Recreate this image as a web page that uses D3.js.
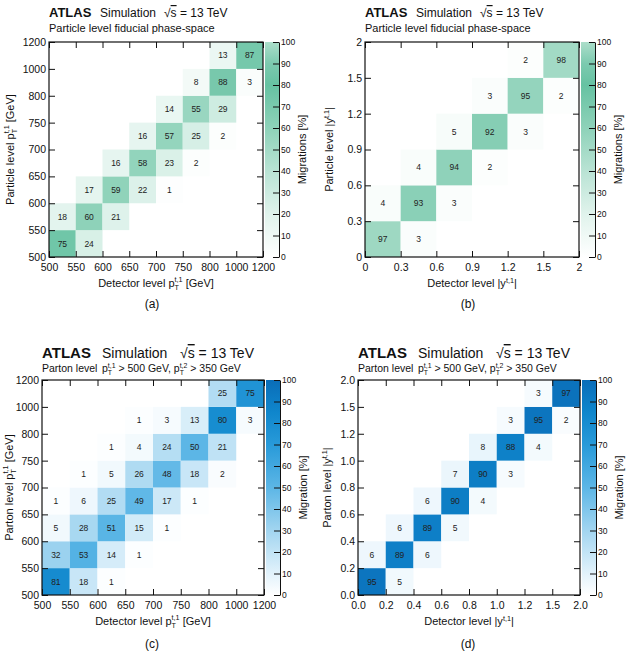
<!DOCTYPE html>
<html>
<head>
<meta charset="utf-8">
<script src="https://cdn.jsdelivr.net/npm/d3@7"></script>
<style>
  body { margin: 0; background: #fff; }
  text { font-family: "Liberation Sans", Arial, sans-serif; fill: #111; }
</style>
</head>
<body>
<script>
const width = 631;
const height = 654;

// bin edges (tick labels)
const ptEdges = ["500", "550", "600", "650", "700", "750", "800", "1000", "1200"];
const rapEdgesB = ["0", "0.3", "0.6", "0.9", "1.2", "1.5", "2"];
const rapEdgesD = ["0.0", "0.2", "0.4", "0.6", "0.8", "1.0", "1.2", "1.5", "2.0"];

// migration matrices in %, rows = truth bin (bottom to top), columns = detector bin
const migPtParticle = [
  [75, 24, null, null, null, null, null, null],
  [18, 60, 21, null, null, null, null, null],
  [null, 17, 59, 22, 1, null, null, null],
  [null, null, 16, 58, 23, 2, null, null],
  [null, null, null, 16, 57, 25, 2, null],
  [null, null, null, null, 14, 55, 29, null],
  [null, null, null, null, null, 8, 88, 3],
  [null, null, null, null, null, null, 13, 87]
];
const migRapParticle = [
  [97, 3, null, null, null, null],
  [4, 93, 3, null, null, null],
  [null, 4, 94, 2, null, null],
  [null, null, 5, 92, 3, null],
  [null, null, null, 3, 95, 2],
  [null, null, null, null, 2, 98]
];
const migPtParton = [
  [81, 18, 1, null, null, null, null, null],
  [32, 53, 14, 1, null, null, null, null],
  [5, 28, 51, 15, 1, null, null, null],
  [1, 6, 25, 49, 17, 1, null, null],
  [null, 1, 5, 26, 48, 18, 2, null],
  [null, null, 1, 4, 24, 50, 21, null],
  [null, null, null, 1, 3, 13, 80, 3],
  [null, null, null, null, null, null, 25, 75]
];
const migRapParton = [
  [95, 5, null, null, null, null, null, null],
  [6, 89, 6, null, null, null, null, null],
  [null, 6, 89, 5, null, null, null, null],
  [null, null, 6, 90, 4, null, null, null],
  [null, null, null, 7, 90, 3, null, null],
  [null, null, null, null, 8, 88, 4, null],
  [null, null, null, null, null, 3, 95, 2],
  [null, null, null, null, null, null, 3, 97]
];

// colour palettes
const greenStops = [0, 20, 40, 60, 80, 90, 100];
const greenColors = ["#ffffff", "#e0f3ec", "#b9e3d4", "#8ed2b9", "#66c2a2", "#7ccaaf", "#acdeca"];
const blueStops = [0, 10, 30, 50, 70, 85, 100];
const blueColors = ["#ffffff", "#e2f2fb", "#a2d5f0", "#5cb6e6", "#289ad9", "#0f86cc", "#0a6db8"];

const svg = d3.select("body")
  .append("svg")
  .attr("width", width)
  .attr("height", height);

const defs = svg.append("defs");

// p_T^{sup} / |y^{sup}| with stacked sub/superscript
function addPt(sel, sup, fs) {
  sel.append("tspan").text("p");
  sel.append("tspan").attr("font-size", fs * 0.66).attr("dy", fs * 0.3).text("T");
  sel.append("tspan").attr("font-size", fs * 0.66).attr("dx", -fs * 0.66 * 0.61).attr("dy", -fs * 0.72).text(sup);
  return sel.append("tspan").attr("dy", fs * 0.42);
}
function addRap(sel, fs) {
  sel.append("tspan").text("|y");
  sel.append("tspan").attr("font-size", fs * 0.66).attr("dy", -fs * 0.4).text("t,1");
  sel.append("tspan").attr("dy", fs * 0.4).text("|");
}

function drawTitle(p) {
  const t = p.title;
  const g = svg.append("g").attr("transform", `translate(${p.left},${p.top})`);
  g.append("text").attr("x", 0).attr("y", -t.dy)
    .attr("font-size", t.fs + 1).attr("font-weight", "bold").text("ATLAS");
  g.append("text").attr("x", t.sim).attr("y", -t.dy)
    .attr("font-size", t.fs).text("Simulation");
  const rs = g.append("text").attr("x", t.rs).attr("y", -t.dy).attr("font-size", t.fs);
  rs.append("tspan").text("\u221A");
  rs.append("tspan").style("text-decoration", "overline").text("s");
  rs.append("tspan").text(" = 13 TeV");

  const sub = g.append("text").attr("x", 0).attr("y", -t.subDy).attr("font-size", t.subFs);
  if (p.parton) {
    sub.text("Parton level");
    const s2 = g.append("text").attr("x", t.sim).attr("y", -t.subDy).attr("font-size", t.subFs);
    addPt(s2, "t,1", t.subFs).text(" > 500 GeV, ");
    addPt(s2, "t,2", t.subFs).text(" > 350 GeV");
  } else {
    sub.text("Particle level fiducial phase-space");
  }
}

function drawPanel(p) {
  const n = p.edges.length - 1;
  const x = d3.scaleLinear().domain([0, n]).range([p.left, p.left + p.w]);
  const y = d3.scaleLinear().domain([0, n]).range([p.top + p.h, p.top]);
  const color = d3.scaleLinear().domain(p.stops).range(p.colors).clamp(true);

  const cells = [];
  p.matrix.forEach((row, j) => row.forEach((v, i) => {
    if (v !== null) cells.push({i: i, j: j, v: v});
  }));

  svg.append("g").selectAll("rect")
    .data(cells)
    .enter()
    .append("rect")
    .attr("x", d => x(d.i))
    .attr("y", d => y(d.j + 1))
    .attr("width", d => x(d.i + 1) - x(d.i))
    .attr("height", d => y(d.j) - y(d.j + 1))
    .attr("fill", d => color(d.v));

  svg.append("g").selectAll("text")
    .data(cells)
    .enter()
    .append("text")
    .attr("x", d => (x(d.i) + x(d.i + 1)) / 2)
    .attr("y", d => (y(d.j) + y(d.j + 1)) / 2)
    .attr("dy", "0.35em")
    .attr("text-anchor", "middle")
    .attr("font-size", 8.5)
    .style("fill", "#222")
    .text(d => d.v);

  const ticks = d3.range(n + 1);
  const fmt = i => p.edges[i];

  const gb = svg.append("g").attr("transform", `translate(0,${p.top + p.h})`)
    .call(d3.axisBottom(x).tickValues(ticks).tickFormat(fmt).tickSizeInner(-6).tickSizeOuter(0).tickPadding(7));
  const gl = svg.append("g").attr("transform", `translate(${p.left},0)`)
    .call(d3.axisLeft(y).tickValues(ticks).tickFormat(fmt).tickSizeInner(-6).tickSizeOuter(0).tickPadding(3));
  const gt = svg.append("g").attr("transform", `translate(0,${p.top})`)
    .call(d3.axisTop(x).tickValues(ticks).tickFormat("").tickSizeInner(-6).tickSizeOuter(0));
  const gr = svg.append("g").attr("transform", `translate(${p.left + p.w},0)`)
    .call(d3.axisRight(y).tickValues(ticks).tickFormat("").tickSizeInner(-6).tickSizeOuter(0));
  [gb, gl, gt, gr].forEach(g => {
    g.select(".domain").remove();
    g.selectAll("line").attr("stroke", "#111");
    g.selectAll("text").attr("font-size", 10.5).attr("font-family", null).style("fill", "#111");
  });

  svg.append("rect")
    .attr("x", p.left).attr("y", p.top)
    .attr("width", p.w).attr("height", p.h)
    .attr("fill", "none").attr("stroke", "#111").attr("stroke-width", 1.2);

  // colour bar
  const gradId = "grad-" + p.tag;
  const grad = defs.append("linearGradient").attr("id", gradId)
    .attr("x1", 0).attr("y1", 1).attr("x2", 0).attr("y2", 0);
  grad.selectAll("stop")
    .data(p.stops)
    .enter()
    .append("stop")
    .attr("offset", d => d / 100)
    .attr("stop-color", (d, k) => p.colors[k]);

  const z = d3.scaleLinear().domain([0, 100]).range([p.top + p.h, p.top]);
  svg.append("rect")
    .attr("x", p.barX).attr("y", p.top)
    .attr("width", 14).attr("height", p.h)
    .attr("fill", `url(#${gradId})`);
  const gz = svg.append("g").attr("transform", `translate(${p.barX + 14},0)`)
    .call(d3.axisRight(z).tickValues(d3.range(0, 101, 10)).tickSizeInner(-6).tickSizeOuter(0).tickPadding(2));
  gz.select(".domain").attr("stroke", "#111");
  gz.selectAll("line").attr("stroke", "#111");
  gz.selectAll("text").attr("font-size", 8.5).attr("font-family", null).style("fill", "#111");

  svg.append("text")
    .attr("transform", `translate(${p.barX + 41},${p.top + p.h / 2}) rotate(-90)`)
    .attr("text-anchor", "middle")
    .attr("font-size", 11)
    .text(p.zTitle);

  // axis titles
  const xt = svg.append("text")
    .attr("x", p.left + p.w / 2).attr("y", p.top + p.h + p.xTitleDy)
    .attr("text-anchor", "middle").attr("font-size", 11);
  xt.append("tspan").text("Detector level ");
  if (p.rap) addRap(xt, 11);
  else addPt(xt, "t,1", 11).text(" [GeV]");

  const yt = svg.append("text")
    .attr("transform", `translate(${p.yTitleX},${p.top + p.h / 2}) rotate(-90)`)
    .attr("text-anchor", "middle").attr("font-size", 11);
  yt.append("tspan").text(p.parton ? "Parton level " : "Particle level ");
  if (p.rap) addRap(yt, 11);
  else addPt(yt, "t,1", 11).text(" [GeV]");

  svg.append("text")
    .attr("x", p.tagX).attr("y", p.top + p.h + p.tagDy)
    .attr("text-anchor", "middle")
    .attr("font-size", 12)
    .attr("font-family", "'Liberation Serif', 'Times New Roman', serif")
    .text("(" + p.tag + ")");

  drawTitle(p);
}

const titleTop = {dy: 25, fs: 12, sim: 51, rs: 115, subDy: 10, subFs: 11};
const titleBottom = {dy: 22, fs: 14, sim: 60, rs: 138, subDy: 8, subFs: 10.5};

drawPanel({tag: "a", left: 49, top: 42, w: 214, h: 215, barX: 265, edges: ptEdges, matrix: migPtParticle,
  stops: greenStops, colors: greenColors, zTitle: "Migrations [%]", rap: false, parton: false,
  xTitleDy: 30, yTitleX: 14, tagX: 152, tagDy: 51, title: titleTop});
drawPanel({tag: "b", left: 365, top: 42, w: 214, h: 215, barX: 581, edges: rapEdgesB, matrix: migRapParticle,
  stops: greenStops, colors: greenColors, zTitle: "Migrations [%]", rap: true, parton: false,
  xTitleDy: 30, yTitleX: 333, tagX: 468, tagDy: 51, title: titleTop});
drawPanel({tag: "c", left: 42, top: 380, w: 222, h: 215, barX: 266, edges: ptEdges, matrix: migPtParton,
  stops: blueStops, colors: blueColors, zTitle: "Migration [%]", rap: false, parton: true,
  xTitleDy: 30, yTitleX: 13, tagX: 152, tagDy: 53, title: titleBottom});
drawPanel({tag: "d", left: 358, top: 380, w: 222, h: 215, barX: 582, edges: rapEdgesD, matrix: migRapParton,
  stops: blueStops, colors: blueColors, zTitle: "Migration [%]", rap: true, parton: true,
  xTitleDy: 30, yTitleX: 331, tagX: 468, tagDy: 53, title: titleBottom});
</script>
</body>
</html>
